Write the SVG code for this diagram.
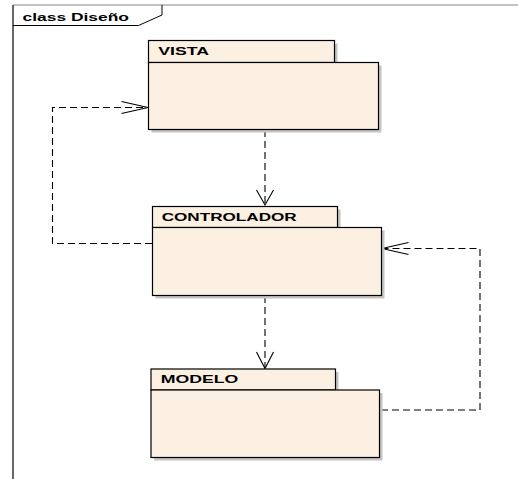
<svg xmlns="http://www.w3.org/2000/svg" width="518" height="479" viewBox="0 0 518 479">
<defs>
<style>
.shadow{fill:#c4c4c4;stroke:none}
.pkg{fill:#fbf0e2;stroke:#000;stroke-width:1.2}
.lbl{font-family:"Liberation Sans",Arial,sans-serif;font-weight:bold;font-size:10.5px;fill:#000}
.dep{fill:none;stroke:#000;stroke-width:1.1;stroke-dasharray:7,4}
.head{fill:none;stroke:#000;stroke-width:1.1}
</style>
</defs>
<rect width="518" height="479" fill="#fff"/>
<g id="frame">
<line x1="13" y1="5" x2="518" y2="5" stroke="#888" stroke-width="1.2"/>
<line x1="13" y1="5" x2="13" y2="479" stroke="#000" stroke-width="1.2"/>
<path d="M13,25.5 H138.5 L162,15 V5" fill="none" stroke="#000" stroke-width="1"/>
<text class="lbl" x="22.5" y="20.5" font-size="11" textLength="106.5" lengthAdjust="spacingAndGlyphs">class Diseño</text>
</g>
<g id="connectors">
<line class="dep" x1="265" y1="130" x2="265" y2="204"/>
<path class="head" d="M256.5,190 L265,205 L273.5,190"/>
<polyline class="dep" points="152,243.5 52.5,243.5 52.5,107.5 147,107.5"/>
<path class="head" d="M121.5,101.5 L148,107.5 L121.5,113.5"/>
<line class="dep" x1="265" y1="296" x2="265" y2="367"/>
<path class="head" d="M256.5,352 L265,368.5 L273.5,352"/>
<polyline class="dep" points="381,410 480,410 480,248.5 383,248.5"/>
<path class="head" d="M408.5,242.5 L382,248.5 L408.5,254.5"/>
</g>
<g id="vista">
<rect class="shadow" x="151.5" y="43.5" width="186" height="22"/>
<rect class="shadow" x="151.5" y="65.5" width="230" height="67"/>
<rect class="pkg" x="148.5" y="40.5" width="186" height="22"/>
<rect class="pkg" x="148.5" y="62.5" width="230" height="67"/>
<text class="lbl" x="158.3" y="55" textLength="50.7" lengthAdjust="spacingAndGlyphs">VISTA</text>
</g>
<g id="controlador">
<rect class="shadow" x="155.5" y="209.5" width="185" height="21"/>
<rect class="shadow" x="155.5" y="230.5" width="229" height="68"/>
<rect class="pkg" x="152.5" y="206.5" width="185" height="21"/>
<rect class="pkg" x="152.5" y="227.5" width="229" height="68"/>
<text class="lbl" x="161.7" y="220.7" textLength="135" lengthAdjust="spacingAndGlyphs">CONTROLADOR</text>
</g>
<g id="modelo">
<rect class="shadow" x="154" y="372" width="184.5" height="21"/>
<rect class="shadow" x="154" y="393" width="228.5" height="67.5"/>
<rect class="pkg" x="151" y="369" width="184.5" height="21"/>
<rect class="pkg" x="151" y="390" width="228.5" height="67.5"/>
<text class="lbl" x="160.7" y="382.7" textLength="77.7" lengthAdjust="spacingAndGlyphs">MODELO</text>
</g>
</svg>
